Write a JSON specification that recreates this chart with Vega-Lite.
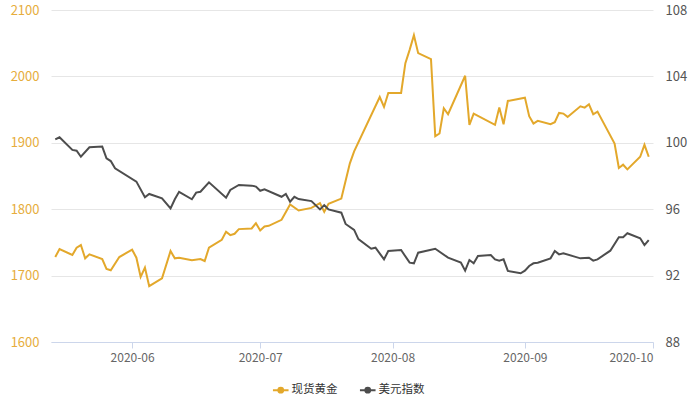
{
  "$schema": "https://vega.github.io/schema/vega-lite/v6.json",
  "width": 602,
  "height": 332,
  "autosize": {"type": "none"},
  "padding": {"left": 51, "top": 10, "right": 47, "bottom": 58},
  "background": "white",
  "config": {
    "view": {"stroke": null},
    "font": "Noto Sans CJK SC",
    "axis": {"labelFont": "Noto Sans CJK SC", "labelFontSize": 12, "titleFontSize": 12}
  },
  "datasets": {
    "gold": [
      {"date": "2020-05-14", "value": 1728},
      {"date": "2020-05-15", "value": 1740},
      {"date": "2020-05-18", "value": 1731},
      {"date": "2020-05-19", "value": 1742},
      {"date": "2020-05-20", "value": 1746},
      {"date": "2020-05-21", "value": 1726},
      {"date": "2020-05-22", "value": 1732},
      {"date": "2020-05-25", "value": 1725},
      {"date": "2020-05-26", "value": 1710},
      {"date": "2020-05-27", "value": 1708},
      {"date": "2020-05-29", "value": 1728},
      {"date": "2020-06-01", "value": 1739},
      {"date": "2020-06-02", "value": 1727},
      {"date": "2020-06-03", "value": 1698},
      {"date": "2020-06-04", "value": 1712},
      {"date": "2020-06-05", "value": 1684},
      {"date": "2020-06-08", "value": 1696},
      {"date": "2020-06-10", "value": 1737},
      {"date": "2020-06-11", "value": 1726},
      {"date": "2020-06-12", "value": 1727},
      {"date": "2020-06-15", "value": 1723},
      {"date": "2020-06-17", "value": 1725},
      {"date": "2020-06-18", "value": 1722},
      {"date": "2020-06-19", "value": 1742},
      {"date": "2020-06-22", "value": 1754},
      {"date": "2020-06-23", "value": 1766},
      {"date": "2020-06-24", "value": 1761},
      {"date": "2020-06-25", "value": 1763},
      {"date": "2020-06-26", "value": 1770},
      {"date": "2020-06-29", "value": 1771},
      {"date": "2020-06-30", "value": 1779},
      {"date": "2020-07-01", "value": 1768},
      {"date": "2020-07-02", "value": 1774},
      {"date": "2020-07-03", "value": 1775},
      {"date": "2020-07-06", "value": 1784},
      {"date": "2020-07-08", "value": 1807},
      {"date": "2020-07-10", "value": 1798},
      {"date": "2020-07-13", "value": 1802},
      {"date": "2020-07-15", "value": 1809},
      {"date": "2020-07-16", "value": 1796},
      {"date": "2020-07-17", "value": 1808},
      {"date": "2020-07-20", "value": 1816},
      {"date": "2020-07-22", "value": 1869},
      {"date": "2020-07-23", "value": 1887},
      {"date": "2020-07-29", "value": 1969},
      {"date": "2020-07-30", "value": 1954},
      {"date": "2020-07-31", "value": 1975},
      {"date": "2020-08-03", "value": 1975},
      {"date": "2020-08-04", "value": 2020},
      {"date": "2020-08-05", "value": 2040},
      {"date": "2020-08-06", "value": 2062},
      {"date": "2020-08-07", "value": 2035},
      {"date": "2020-08-10", "value": 2026},
      {"date": "2020-08-11", "value": 1910},
      {"date": "2020-08-12", "value": 1914},
      {"date": "2020-08-13", "value": 1952},
      {"date": "2020-08-14", "value": 1943},
      {"date": "2020-08-18", "value": 2001},
      {"date": "2020-08-19", "value": 1927},
      {"date": "2020-08-20", "value": 1944},
      {"date": "2020-08-25", "value": 1927},
      {"date": "2020-08-26", "value": 1953},
      {"date": "2020-08-27", "value": 1928},
      {"date": "2020-08-28", "value": 1963},
      {"date": "2020-09-01", "value": 1968},
      {"date": "2020-09-02", "value": 1940},
      {"date": "2020-09-03", "value": 1929},
      {"date": "2020-09-04", "value": 1933},
      {"date": "2020-09-07", "value": 1928},
      {"date": "2020-09-08", "value": 1931},
      {"date": "2020-09-09", "value": 1945},
      {"date": "2020-09-10", "value": 1944},
      {"date": "2020-09-11", "value": 1939},
      {"date": "2020-09-14", "value": 1955},
      {"date": "2020-09-15", "value": 1953},
      {"date": "2020-09-16", "value": 1958},
      {"date": "2020-09-17", "value": 1943},
      {"date": "2020-09-18", "value": 1947},
      {"date": "2020-09-22", "value": 1899},
      {"date": "2020-09-23", "value": 1862},
      {"date": "2020-09-24", "value": 1867},
      {"date": "2020-09-25", "value": 1860},
      {"date": "2020-09-28", "value": 1879},
      {"date": "2020-09-29", "value": 1897},
      {"date": "2020-09-30", "value": 1879}
    ],
    "usd": [
      {"date": "2020-05-14", "value": 100.2},
      {"date": "2020-05-15", "value": 100.33},
      {"date": "2020-05-18", "value": 99.57},
      {"date": "2020-05-19", "value": 99.52},
      {"date": "2020-05-20", "value": 99.16},
      {"date": "2020-05-22", "value": 99.73},
      {"date": "2020-05-25", "value": 99.77},
      {"date": "2020-05-26", "value": 99.07},
      {"date": "2020-05-27", "value": 98.9},
      {"date": "2020-05-28", "value": 98.46},
      {"date": "2020-06-02", "value": 97.66},
      {"date": "2020-06-04", "value": 96.72},
      {"date": "2020-06-05", "value": 96.92},
      {"date": "2020-06-08", "value": 96.66},
      {"date": "2020-06-10", "value": 96.05},
      {"date": "2020-06-11", "value": 96.6},
      {"date": "2020-06-12", "value": 97.05},
      {"date": "2020-06-15", "value": 96.6},
      {"date": "2020-06-16", "value": 97.0},
      {"date": "2020-06-17", "value": 97.05},
      {"date": "2020-06-19", "value": 97.62},
      {"date": "2020-06-23", "value": 96.69},
      {"date": "2020-06-24", "value": 97.16},
      {"date": "2020-06-26", "value": 97.46},
      {"date": "2020-06-29", "value": 97.42},
      {"date": "2020-06-30", "value": 97.36},
      {"date": "2020-07-01", "value": 97.11},
      {"date": "2020-07-02", "value": 97.2},
      {"date": "2020-07-06", "value": 96.75},
      {"date": "2020-07-07", "value": 96.92},
      {"date": "2020-07-08", "value": 96.45},
      {"date": "2020-07-09", "value": 96.75},
      {"date": "2020-07-10", "value": 96.61},
      {"date": "2020-07-13", "value": 96.49},
      {"date": "2020-07-15", "value": 95.99},
      {"date": "2020-07-16", "value": 96.25},
      {"date": "2020-07-17", "value": 95.99},
      {"date": "2020-07-20", "value": 95.79},
      {"date": "2020-07-21", "value": 95.11},
      {"date": "2020-07-23", "value": 94.75},
      {"date": "2020-07-24", "value": 94.2},
      {"date": "2020-07-27", "value": 93.62},
      {"date": "2020-07-28", "value": 93.68},
      {"date": "2020-07-30", "value": 92.98},
      {"date": "2020-07-31", "value": 93.48},
      {"date": "2020-08-03", "value": 93.54},
      {"date": "2020-08-05", "value": 92.78},
      {"date": "2020-08-06", "value": 92.74},
      {"date": "2020-08-07", "value": 93.38},
      {"date": "2020-08-11", "value": 93.62},
      {"date": "2020-08-14", "value": 93.08},
      {"date": "2020-08-17", "value": 92.78},
      {"date": "2020-08-18", "value": 92.3},
      {"date": "2020-08-19", "value": 92.94},
      {"date": "2020-08-20", "value": 92.74},
      {"date": "2020-08-21", "value": 93.18},
      {"date": "2020-08-24", "value": 93.24},
      {"date": "2020-08-25", "value": 92.98},
      {"date": "2020-08-26", "value": 92.9},
      {"date": "2020-08-27", "value": 92.98},
      {"date": "2020-08-28", "value": 92.28},
      {"date": "2020-08-31", "value": 92.14},
      {"date": "2020-09-01", "value": 92.3},
      {"date": "2020-09-02", "value": 92.58},
      {"date": "2020-09-03", "value": 92.74},
      {"date": "2020-09-04", "value": 92.78},
      {"date": "2020-09-07", "value": 93.04},
      {"date": "2020-09-08", "value": 93.48},
      {"date": "2020-09-09", "value": 93.28},
      {"date": "2020-09-10", "value": 93.34},
      {"date": "2020-09-14", "value": 93.04},
      {"date": "2020-09-16", "value": 93.08},
      {"date": "2020-09-17", "value": 92.9},
      {"date": "2020-09-18", "value": 92.98},
      {"date": "2020-09-21", "value": 93.5},
      {"date": "2020-09-23", "value": 94.31},
      {"date": "2020-09-24", "value": 94.31},
      {"date": "2020-09-25", "value": 94.55},
      {"date": "2020-09-28", "value": 94.25},
      {"date": "2020-09-29", "value": 93.84},
      {"date": "2020-09-30", "value": 94.14}
    ]
  },
  "encoding": {
    "x": {
      "field": "date",
      "type": "temporal",
      "title": null,
      "scale": {
        "type": "utc",
        "domain": [
          {"year": 2020, "month": 5, "date": 13, "utc": true},
          {"year": 2020, "month": 10, "date": 1, "utc": true}
        ]
      },
      "axis": {
        "values": [
          {"year": 2020, "month": 6, "date": 1, "utc": true},
          {"year": 2020, "month": 7, "date": 1, "utc": true},
          {"year": 2020, "month": 8, "date": 1, "utc": true},
          {"year": 2020, "month": 9, "date": 1, "utc": true},
          {"year": 2020, "month": 10, "date": 1, "utc": true}
        ],
        "labelExpr": "utcFormat(datum.value, '%Y-%m')",
        "grid": false,
        "domainColor": "#ccd6eb",
        "tickColor": "#ccd6eb",
        "tickSize": 6,
        "labelColor": "#666666",
        "labelFontSize": 12,
        "labelPadding": 4
      }
    },
    "color": {
      "type": "nominal",
      "scale": {"domain": ["现货黄金", "美元指数"], "range": ["#e3a82b", "#4d4d4d"]},
      "legend": {
        "title": null,
        "orient": "none",
        "legendX": 224,
        "legendY": 374,
        "direction": "horizontal",
        "labelFontSize": 11.5,
        "labelColor": "#333333",
        "labelOffset": 5,
        "columnPadding": 17,
        "symbolSize": 36,
        "symbolStrokeWidth": 2,
        "symbolType": "M-2.6,0H2.6M0.8,0A0.8,0.8,0,1,1,-0.8,0A0.8,0.8,0,1,1,0.8,0Z",
        "encode": {
          "symbols": {
            "update": {
              "fill": {"scale": "color", "field": "value"},
              "stroke": {"scale": "color", "field": "value"}
            }
          }
        }
      }
    }
  },
  "layer": [
    {
      "data": {"name": "gold"},
      "mark": {"type": "line", "strokeWidth": 2},
      "encoding": {
        "y": {
          "field": "value",
          "type": "quantitative",
          "title": null,
          "scale": {"domain": [1600, 2100], "nice": false, "zero": false},
          "axis": {
            "orient": "left",
            "values": [1600, 1700, 1800, 1900, 2000, 2100],
            "format": "d",
            "domain": false,
            "ticks": false,
            "gridColor": "#e6e6e6",
            "labelColor": "#e6ad3c",
            "labelFontSize": 13,
            "labelPadding": 12
          }
        },
        "color": {"datum": "现货黄金"}
      }
    },
    {
      "data": {"name": "usd"},
      "mark": {"type": "line", "strokeWidth": 2},
      "encoding": {
        "y": {
          "field": "value",
          "type": "quantitative",
          "title": null,
          "scale": {"domain": [88, 108], "nice": false, "zero": false},
          "axis": {
            "orient": "right",
            "values": [88, 92, 96, 100, 104, 108],
            "format": "d",
            "domain": false,
            "ticks": false,
            "grid": false,
            "labelColor": "#555555",
            "labelFontSize": 13,
            "labelPadding": 12
          }
        },
        "color": {"datum": "美元指数"}
      }
    }
  ],
  "resolve": {"scale": {"y": "independent"}}
}
